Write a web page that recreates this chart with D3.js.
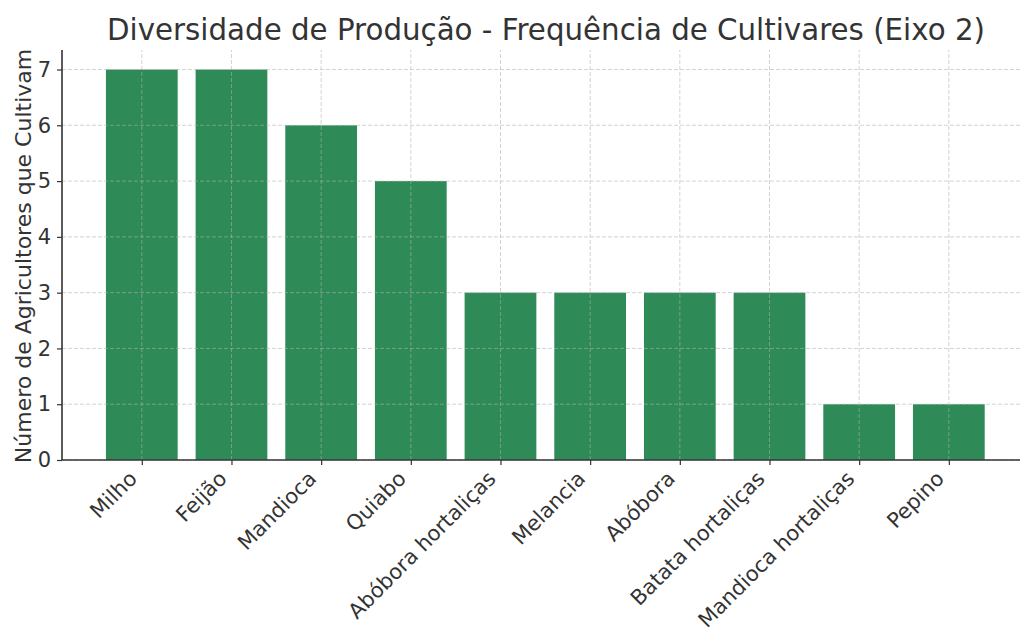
<!DOCTYPE html>
<html lang="pt">
<head>
  <meta charset="UTF-8">
  <title>Diversidade de Produção</title>
  <script src="https://d3js.org/d3.v7.min.js"></script>
  <style>
    body { margin: 0; background: #fff; }
    svg { font-family: "DejaVu Sans", sans-serif; }
  </style>
</head>
<body>
  <svg id="chart"></svg>

  <script>
    const cultivares = ["Milho", "Feijão", "Mandioca", "Quiabo", "Abóbora hortaliças",
      "Melancia", "Abóbora", "Batata hortaliças", "Mandioca hortaliças", "Pepino"];
    const agricultores = [7, 7, 6, 5, 3, 3, 3, 3, 1, 1];
    const yTicks = [0, 1, 2, 3, 4, 5, 6, 7];

    const width = 1020;
    const height = 629;
    const margin = { top: 50, left: 62, bottom: 169 };

    const svg = d3.select("#chart")
      .attr("width", width)
      .attr("height", height);

    // matplotlib style x range: bars of 0.8 with 5% margins
    const step = 89.67;
    const x = d3.scaleLinear()
      .domain([-0.89, 9.89])
      .range([margin.left, margin.left + 10.78 * step]);

    const y = d3.scaleLinear()
      .domain([0, 7.35])
      .range([height - margin.bottom, margin.top]);

    const data = cultivares.map((c, i) => ({ name: c, value: agricultores[i], i }));

    // bars
    svg.selectAll("rect.bar")
      .data(data)
      .enter()
      .append("rect")
      .attr("class", "bar")
      .attr("x", d => x(d.i - 0.4))
      .attr("width", x(0.4) - x(-0.4))
      .attr("y", d => y(d.value))
      .attr("height", d => y(0) - y(d.value))
      .attr("fill", "#2e8b57");

    // grid on top of bars
    const grid = svg.append("g")
      .attr("stroke", "#b0b0b0")
      .attr("stroke-opacity", 0.7)
      .attr("stroke-width", 0.8)
      .attr("stroke-dasharray", "4,2");

    grid.selectAll("line.h")
      .data(yTicks)
      .enter()
      .append("line")
      .attr("x1", margin.left)
      .attr("x2", width)
      .attr("y1", d => y(d))
      .attr("y2", d => y(d));

    grid.selectAll("line.v")
      .data(data)
      .enter()
      .append("line")
      .attr("x1", d => x(d.i))
      .attr("x2", d => x(d.i))
      .attr("y1", y(0))
      .attr("y2", margin.top);

    // axes
    const yAxis = svg.append("g")
      .attr("transform", `translate(${margin.left},0)`)
      .call(d3.axisLeft(y).tickValues(yTicks).tickSize(5).tickPadding(6));

    const xAxis = svg.append("g")
      .attr("transform", `translate(0,${y(0)})`)
      .call(d3.axisBottom(x).tickValues(d3.range(cultivares.length))
        .tickFormat(i => cultivares[i]).tickSize(5).tickPadding(5));

    [yAxis, xAxis].forEach(ax => {
      ax.selectAll("path.domain").attr("stroke", "#333").attr("stroke-width", 1.6);
      ax.selectAll(".tick line").attr("stroke", "#333").attr("stroke-width", 1.2);
      ax.selectAll("text").attr("fill", "#333").attr("font-size", 21)
        .attr("font-family", "DejaVu Sans, sans-serif");
    });

    // clip domain lines to the visible range
    yAxis.select("path.domain").attr("d", `M0,${y(0)}V${margin.top}`);
    xAxis.select("path.domain").attr("d", `M${margin.left},0H${width}`);

    // rotated labels, right/top aligned to the tick like matplotlib
    xAxis.selectAll(".tick text")
      .attr("text-anchor", "end")
      .attr("transform", "translate(-4,20) rotate(-45)")
      .attr("dy", 0)
      .attr("y", 0)
      .attr("x", 0);

    // y label
    svg.append("text")
      .attr("transform", `translate(31,${(y(0) + margin.top) / 2 + 1}) rotate(-90)`)
      .attr("text-anchor", "middle")
      .attr("fill", "#333")
      .attr("font-size", 22)
      .text("Número de Agricultores que Cultivam");

    // title
    svg.append("text")
      .attr("x", 546)
      .attr("y", 40)
      .attr("text-anchor", "middle")
      .attr("fill", "#333")
      .attr("font-size", 29.3)
      .text("Diversidade de Produção - Frequência de Cultivares (Eixo 2)");
  </script>
</body>
</html>
